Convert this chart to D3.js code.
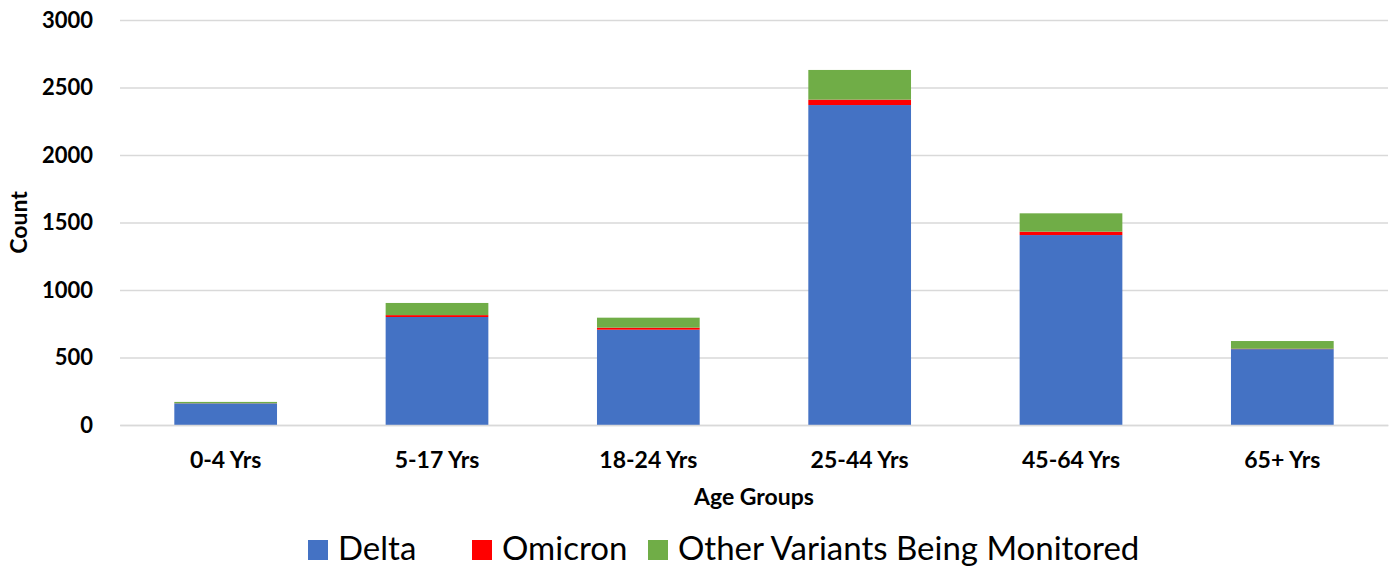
<!DOCTYPE html>
<html>
<head>
<meta charset="utf-8">
<script src="https://cdn.jsdelivr.net/npm/d3@7"></script>
<style>
  body { margin: 0; background: #fff; }
  text { font-family: Lato, "Open Sans", sans-serif; fill: #000; }
</style>
</head>
<body>
<svg width="1395" height="570"></svg>
<script>
// data
var ageGroups = ["0-4 Yrs", "5-17 Yrs", "18-24 Yrs", "25-44 Yrs", "45-64 Yrs", "65+ Yrs"];
var delta = [160, 800, 706, 2370, 1407, 562];
var omicron = [1, 14, 15, 40, 25, 3];
var other = [10, 90, 74, 220, 136, 57];
var seriesNames = ["Delta", "Omicron", "Other Variants Being Monitored"];
var seriesColors = ["#4472C4", "#FF0000", "#70AD47"];
var yTicks = [0, 500, 1000, 1500, 2000, 2500, 3000];

var svg = d3.select("svg");
var plotLeft = 120, plotRight = 1388, plotTop = 20, plotBottom = 425;

var rows = ageGroups.map(function(g, i) {
    return { group: g, Delta: delta[i], Omicron: omicron[i], "Other Variants Being Monitored": other[i] };
});
var stacked = d3.stack().keys(seriesNames)(rows);

var x = d3.scaleBand().domain(ageGroups).range([plotLeft, plotRight])
    .paddingInner(0.514).paddingOuter(0.257);
var y = d3.scaleLinear().domain([0, 3000]).range([plotBottom, plotTop]);

// gridlines + y labels
var yAxis = svg.append("g")
    .attr("transform", "translate(" + plotLeft + ",0)")
    .call(d3.axisLeft(y).tickValues(yTicks).tickFormat(d3.format("d"))
        .tickSize(-(plotRight - plotLeft)).tickPadding(27));
yAxis.select(".domain").remove();
yAxis.selectAll("line").attr("stroke", "#d9d9d9").attr("stroke-width", 1.3);
yAxis.selectAll("text")
    .style("font-family", "Lato, sans-serif")
    .style("font-size", "22px").style("font-weight", "bold").attr("fill", "#000");

// bars
svg.append("g").selectAll("g")
    .data(stacked)
    .enter().append("g")
      .attr("fill", function(d, i) { return seriesColors[i]; })
    .selectAll("rect")
    .data(function(d) { return d; })
    .enter().append("rect")
      .attr("x", function(d) { return x(d.data.group); })
      .attr("width", x.bandwidth())
      .attr("y", function(d) { return y(d[1]); })
      .attr("height", function(d) { return y(d[0]) - y(d[1]); });

// x labels
var xAxis = svg.append("g")
    .attr("transform", "translate(0," + plotBottom + ")")
    .call(d3.axisBottom(x).tickSize(0).tickPadding(27));
xAxis.select(".domain").attr("stroke", "#d9d9d9").attr("stroke-width", 1.3);
xAxis.selectAll("text")
    .style("font-family", "Lato, sans-serif")
    .style("font-size", "23px").style("font-weight", "bold").attr("fill", "#000");

// axis titles
svg.append("text")
    .attr("x", (plotLeft + plotRight) / 2).attr("y", 505)
    .attr("text-anchor", "middle")
    .style("font-size", "23px").style("font-weight", "bold")
    .text("Age Groups");

svg.append("text")
    .attr("transform", "translate(27," + ((plotTop + plotBottom) / 2) + ") rotate(-90)")
    .attr("text-anchor", "middle")
    .style("font-size", "23px").style("font-weight", "bold")
    .text("Count");

// legend
var legendX = [308, 472, 648];
var legend = svg.append("g").selectAll("g")
    .data(seriesNames)
    .enter().append("g")
      .attr("transform", function(d, i) { return "translate(" + legendX[i] + ",540)"; });
legend.append("rect")
    .attr("width", 20).attr("height", 20)
    .attr("fill", function(d, i) { return seriesColors[i]; });
legend.append("text")
    .attr("x", 30).attr("y", 20)
    .style("font-size", "33px")
    .text(function(d) { return d; });
</script>
</body>
</html>
